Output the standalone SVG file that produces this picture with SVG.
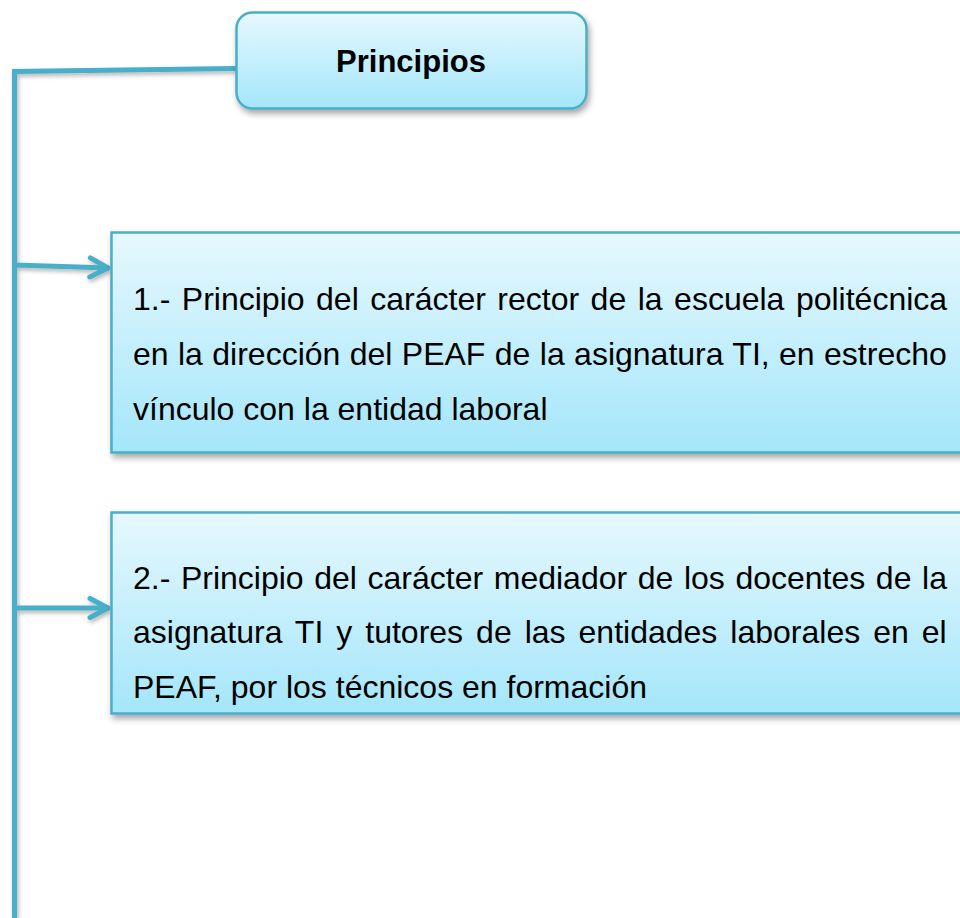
<svg xmlns="http://www.w3.org/2000/svg" width="960" height="918" viewBox="0 0 960 918">
<defs>
<linearGradient id="g" x1="0" y1="0" x2="0" y2="1">
<stop offset="0" stop-color="#e6f8fe"/>
<stop offset="1" stop-color="#a4e6fa"/>
</linearGradient>
<filter id="sh" x="-10%" y="-10%" width="130%" height="140%">
<feDropShadow dx="2" dy="4" stdDeviation="3" flood-color="#000" flood-opacity="0.35"/>
</filter>
<filter id="lsh" filterUnits="userSpaceOnUse" x="0" y="0" width="960" height="918">
<feDropShadow dx="1.5" dy="2.5" stdDeviation="2" flood-color="#000" flood-opacity="0.3"/>
</filter>
<marker id="arr" markerUnits="userSpaceOnUse" markerWidth="30" markerHeight="30" refX="22" refY="12" orient="auto">
<path d="M3,2.5 L21,12 L3,21.5" fill="none" stroke="#4aaec7" stroke-width="5" stroke-linecap="round" stroke-linejoin="round"/>
</marker>
</defs>
<style>
.box{fill:url(#g);stroke:#4aaec7;stroke-width:2.5;filter:url(#sh)}
.ln{fill:none;stroke:#4aaec7;stroke-width:5}
.t{font-family:"Liberation Sans",Arial,sans-serif;font-size:32px;fill:#000}
.h{font-family:"Liberation Sans",Arial,sans-serif;font-size:31px;font-weight:bold;fill:#000}
</style>
<g id="connectors" filter="url(#lsh)">
<path class="ln" d="M14.5,918 L14.5,71.5 L236,68.5" stroke-width="6"/>
<path class="ln" d="M14.5,265 L109,268" marker-end="url(#arr)"/>
<path class="ln" d="M14.5,608 L109,608" marker-end="url(#arr)"/>
</g>
<g id="principios">
<rect class="box" x="236.5" y="12.5" width="350" height="96" rx="16"/>
<text class="h" x="411" y="72" text-anchor="middle">Principios</text>
</g>
<g id="principio1">
<rect class="box" x="111.5" y="232.5" width="870" height="220"/>
<text class="t" x="133" y="310" word-spacing="2.6">1.- Principio del carácter rector de la escuela politécnica</text>
<text class="t" x="133" y="365" word-spacing="0.5">en la dirección del PEAF de la asignatura TI, en estrecho</text>
<text class="t" x="133" y="420">vínculo con la entidad laboral</text>
</g>
<g id="principio2">
<rect class="box" x="111.5" y="512.5" width="870" height="201"/>
<text class="t" x="133" y="589" word-spacing="1.7">2.- Principio del carácter mediador de los docentes de la</text>
<text class="t" x="133" y="643" word-spacing="4.1">asignatura TI y tutores de las entidades laborales en el</text>
<text class="t" x="133" y="698">PEAF, por los técnicos en formación</text>
</g>
</svg>
